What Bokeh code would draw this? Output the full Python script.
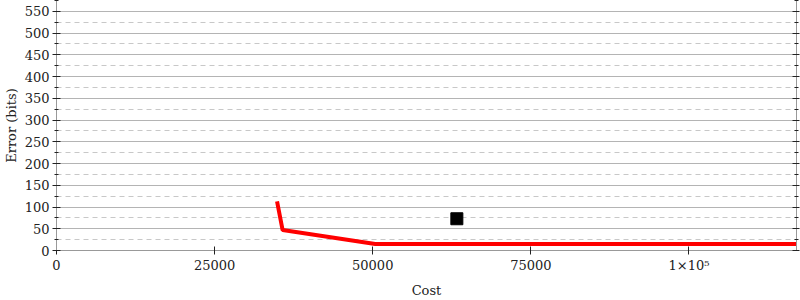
from bokeh.plotting import figure
from bokeh.models import (LinearAxis, SingleIntervalTicker, FixedTicker, Range1d,
                          ColumnDataSource, BasicTickFormatter, CustomJSTickFormatter)
from bokeh.embed import file_html
from bokeh.resources import INLINE

# Data
front_cost = [34870, 35750, 50400, 117000]
front_error = [113, 47, 15, 15]
point_cost = [63300]
point_error = [73]
x_ticks = [0, 25000, 50000, 75000, 100000]
x_tick_labels = {100000: "1×10⁵"}

FONT = "DejaVu Serif"

p = figure(width=800, height=300, output_backend="svg", toolbar_location=None,
           x_range=Range1d(0, 117000), y_range=Range1d(0, 575),
           min_border_left=56, min_border_right=4, min_border_top=0, min_border_bottom=50)
p.outline_line_color = None
p.background_fill_color = "white"

# x axis
xa = p.xaxis[0]
xa.ticker = FixedTicker(ticks=x_ticks)
xa.formatter = BasicTickFormatter(use_scientific=False)
xa.major_label_overrides = x_tick_labels
xa.axis_label = "Cost"
# y axis
ya = p.yaxis[0]
ya.ticker = SingleIntervalTicker(interval=50, num_minor_ticks=2)
ya.axis_label = "Error (bits)"

for ax in (xa, ya):
    ax.axis_line_color = "#999999"
    ax.major_tick_line_color = "#222222"
    ax.minor_tick_line_color = "#222222"
    ax.major_tick_in = 4
    ax.major_tick_out = 4
    ax.minor_tick_in = 2
    ax.minor_tick_out = 2
    ax.major_label_text_font = FONT
    ax.major_label_text_font_size = "13px"
    ax.major_label_text_color = "#222222"
    ax.axis_label_text_font = FONT
    ax.axis_label_text_font_size = "13px"
    ax.axis_label_text_font_style = "normal"
    ax.axis_label_text_color = "#222222"
    ax.major_label_standoff = 3
xa.axis_label_standoff = 7
ya.axis_label_standoff = 3

# mirrored right axis with ticks only
ra = LinearAxis(ticker=SingleIntervalTicker(interval=50, num_minor_ticks=2),
                formatter=CustomJSTickFormatter(code="return ''"))
ra.axis_line_color = "#999999"
ra.major_tick_line_color = "#222222"
ra.minor_tick_line_color = "#222222"
ra.major_tick_in = 4
ra.major_tick_out = 3
ra.minor_tick_in = 2
ra.minor_tick_out = 2
ra.major_label_standoff = 0
p.add_layout(ra, "right")

# grid
p.xgrid.visible = False
p.ygrid.grid_line_color = "#b4b4b4"
p.ygrid.grid_line_width = 1
p.ygrid.minor_grid_line_color = "#c8c8c8"
p.ygrid.minor_grid_line_dash = "5 4"

src = ColumnDataSource(dict(x=front_cost, y=front_error))
p.line("x", "y", source=src, line_color="red", line_width=4)
p.scatter(point_cost, point_error, marker="square", size=12, color="black")

open("out.html", "w").write(file_html(p, INLINE))
